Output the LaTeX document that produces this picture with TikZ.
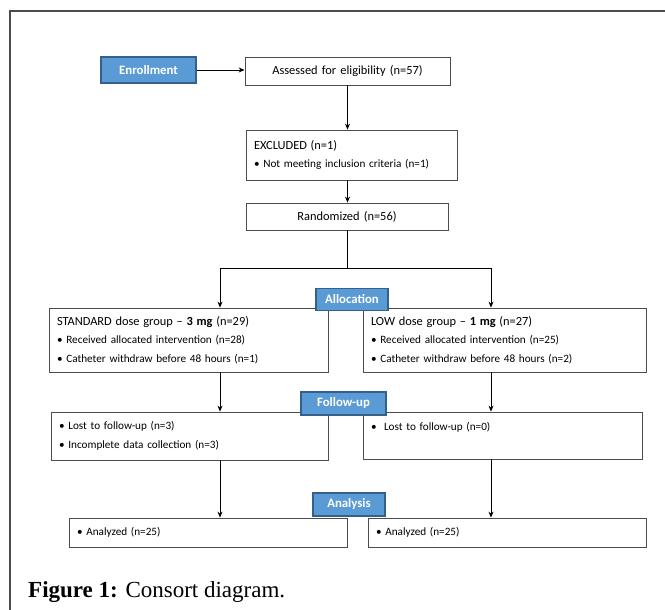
\documentclass[tikz,border=0pt]{standalone}
\usepackage{fontspec}
\setsansfont{Carlito}
\newfontfamily\capfont{Liberation Serif}
\usepackage{xcolor}
\usepackage{tikz}
\usetikzlibrary{arrows.meta, positioning, calc}

\definecolor{stagefill}{RGB}{91,155,213}
\definecolor{stageedge}{RGB}{52,96,140}

\begin{document}
\begin{tikzpicture}[x=1pt, y=-1pt,
  panel/.style={draw=black!70, line width=0.8pt, fill=white, inner xsep=8pt, inner ysep=2pt,
    align=left, font=\sffamily\fontsize{11.2}{18.5}\selectfont},
  stage/.style={draw=stageedge, line width=1.3pt, fill=stagefill, text=white, inner sep=0pt,
    font=\sffamily\bfseries\fontsize{12.8}{14}\selectfont},
  flow/.style={-{Stealth[length=6pt, width=5pt]}, line width=0.9pt}]
\useasboundingbox (0,0) rectangle (665,610);

% outer frame
\draw[line width=1.5pt, black!70] (10,610) -- (10,11) -- (665,11);

% enrollment
\node[panel, align=center, text width=189pt, minimum height=28pt, font=\sffamily\fontsize{12.4}{14}\selectfont] (assess) at (347.5,71) {Assessed for eligibility (n=57)};
\node[panel, text width=195pt, minimum height=50pt] (excl) at (351.5,155)
  {{\fontsize{12.4}{18}\selectfont EXCLUDED (n=1)}\\ • Not meeting inclusion criteria (n=1)};
\node[panel, align=center, text width=186pt, minimum height=27pt, font=\sffamily\fontsize{12.4}{14}\selectfont] (rand) at (347,216.5) {Randomized (n=56)};

% allocation
\node[panel, text width=263pt, minimum height=64pt] (std) at (188.5,340)
  {{\fontsize{12.4}{18.5}\selectfont STANDARD dose group -- \textbf{3 mg} (n=29)}\\
   • Received allocated intervention (n=28)\\
   • Catheter withdraw before 48 hours (n=1)};
\node[panel, text width=267pt, minimum height=64pt] (low) at (504.5,340)
  {{\fontsize{12.4}{18.5}\selectfont LOW dose group -- \textbf{1 mg} (n=27)}\\
   • Received allocated intervention (n=25)\\
   • Catheter withdraw before 48 hours (n=2)};

% follow-up
\node[panel, text width=261pt, minimum height=48pt] (fuL) at (189.5,436)
  {• Lost to follow-up (n=3)\\ • Incomplete data collection (n=3)};
\node[panel, text width=263pt, minimum height=47pt] (fuR) at (502.5,435.5)
  {•\ \ Lost to follow-up (n=0)\\ \mbox{}};

% analysis
\node[panel, text width=262pt, minimum height=29pt] (anL) at (208,532.5) {• Analyzed (n=25)};
\node[panel, text width=262pt, minimum height=29pt] (anR) at (507,532.5) {• Analyzed (n=25)};

% connectors
\coordinate (splitL) at (220,268);
\coordinate (splitR) at (491,268);
\draw[flow] (assess.south) -- (assess.south |- excl.north);
\draw[flow] (assess.south |- excl.south) -- (assess.south |- rand.north);
\draw[line width=0.9pt] (rand.south) -- (rand.south |- splitL);
\draw[line width=0.9pt] (splitL) -- (splitR);
\draw[flow] (splitL) -- (splitL |- std.north);
\draw[flow] (splitR) -- (splitR |- low.north);
\draw[flow] (splitL |- std.south) -- (splitL |- fuL.north);
\draw[flow] (splitR |- low.south) -- (splitR |- fuR.north);
\draw[flow] (splitL |- fuL.south) -- (splitL |- anL.north);
\draw[flow] (splitR |- fuR.south) -- (splitR |- anR.north);

% stage labels
\node[stage, minimum width=95pt, minimum height=26pt] (enrol) at (148.5,70) {Enrollment};
\draw[flow] (enrol.east) -- (enrol.east -| assess.west);
\node[stage, minimum width=72pt, minimum height=22pt] (alloc) at (352,299.5) {Allocation};
\node[stage, minimum width=85pt, minimum height=23pt] (follow) at (343.5,403.5) {Follow-up};
\node[stage, minimum width=72pt, minimum height=23pt] (analysis) at (349,504.5) {Analysis};

% caption
\node[anchor=base west, inner sep=0pt, font=\capfont\fontsize{23}{26}\selectfont] (caption) at (28,597)
  {\textbf{Figure 1:} Consort diagram.};
\end{tikzpicture}
\end{document}
